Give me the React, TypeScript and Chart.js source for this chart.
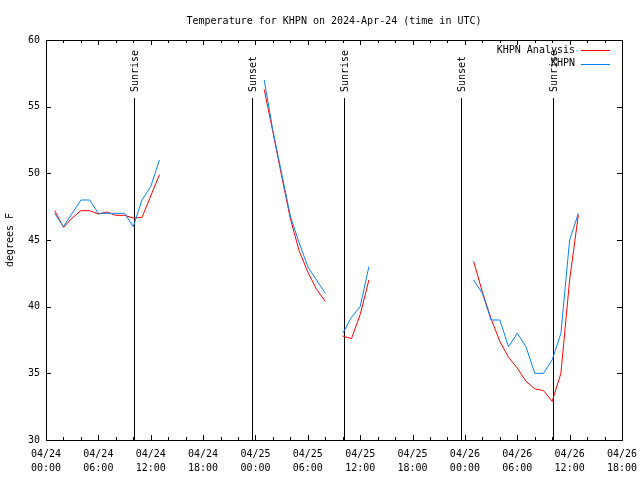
import React, { useEffect, useRef } from 'react';
import { Chart, registerables } from 'chart.js';

Chart.register(...registerables);

const FONT = '"DejaVu Sans Mono", monospace';

// Axis ticks (hours since 04/24 00:00 UTC)
const xTickHours = [0, 6, 12, 18, 24, 30, 36, 42, 48, 54, 60, 66];
const xTickLabels = [
  ['04/24', '00:00'], ['04/24', '06:00'], ['04/24', '12:00'], ['04/24', '18:00'],
  ['04/25', '00:00'], ['04/25', '06:00'], ['04/25', '12:00'], ['04/25', '18:00'],
  ['04/26', '00:00'], ['04/26', '06:00'], ['04/26', '12:00'], ['04/26', '18:00'],
];
const xMinorStep = 2;
const yTicks = [30, 35, 40, 45, 50, 55, 60];

// Sun events (hours since 04/24 00:00 UTC)
const sunHours = [10.1, 23.65, 34.1, 47.6, 58.05];
const sunLabels = ['Sunrise', 'Sunset', 'Sunrise', 'Sunset', 'Sunrise'];

// Segment 1
const seg1Hours = [1, 2, 3, 4, 5, 6, 7, 8, 9, 10, 11, 12, 13];
const seg1Analysis = [47.2, 45.95, 46.65, 47.2, 47.2, 46.95, 47.1, 46.85, 46.85, 46.65, 46.7, 48.3, 49.9];
const seg1Obs = [47, 46, 47, 48, 48, 47, 47, 47, 47, 46, 48, 49, 51];

// Segment 2
const seg2Hours = [25, 26, 27, 28, 29, 30, 31, 32];
const seg2Analysis = [56.3, 53.1, 49.8, 46.6, 44.2, 42.6, 41.3, 40.4];
const seg2Obs = [57, 53.2, 50, 46.8, 44.8, 43, 42, 41];

// Segment 3
const seg3Hours = [34, 35, 36, 37];
const seg3Analysis = [37.8, 37.6, 39.4, 42.0];
const seg3Obs = [38, 39.2, 40, 43];

// Segment 4
const seg4Hours = [49, 50, 51, 52, 53, 54, 55, 56, 57, 58, 59, 60, 61];
const seg4Analysis = [43.4, 41.1, 39.1, 37.4, 36.2, 35.4, 34.4, 33.85, 33.7, 32.9, 35, 42, 46.9];
const seg4Obs = [42, 41, 39, 39, 37, 38, 37, 35, 35, 36, 38, 45, 47];

const analysisLabel = 'KHPN Analysis';
const obsLabel = 'KHPN';
const titleText = 'Temperature for KHPN on 2024-Apr-24 (time in UTC)';
const RED = '#ff0000';
const BLUE = '#0a80f0';

function buildSeries(segments: [number[], number[]][]) {
  const out: { x: number; y: number | null }[] = [];
  segments.forEach(([hs, vs], si) => {
    if (si > 0) out.push({ x: hs[0] - 0.5, y: null });
    hs.forEach((h, i) => out.push({ x: h, y: vs[i] }));
  });
  return out;
}

const framePlugin = {
  id: 'gnuFrame',
  beforeDatasetsDraw(chart: any) {
    const { ctx, chartArea, scales } = chart;
    const xs = scales.x;
    ctx.save();
    ctx.strokeStyle = '#000';
    ctx.lineWidth = 1;
    ctx.fillStyle = '#000';
    ctx.font = `10px ${FONT}`;
    const lineTop = chartArea.top + 58;
    sunHours.forEach((h, i) => {
      const x = Math.round(xs.getPixelForValue(h)) + 0.5;
      ctx.beginPath();
      ctx.moveTo(x, chartArea.bottom);
      ctx.lineTo(x, lineTop);
      ctx.stroke();
      ctx.save();
      ctx.translate(x + 1, lineTop - 6);
      ctx.rotate(-Math.PI / 2);
      ctx.textAlign = 'left';
      ctx.textBaseline = 'middle';
      ctx.fillText(sunLabels[i], 0, 0);
      ctx.restore();
    });
    ctx.restore();
  },
  afterDraw(chart: any) {
    const { ctx, chartArea, scales } = chart;
    const xs = scales.x;
    const ys = scales.y;
    const { left, right, top, bottom } = chartArea;
    ctx.save();
    ctx.strokeStyle = '#000';
    ctx.lineWidth = 1;
    ctx.strokeRect(Math.round(left) + 0.5, Math.round(top) + 0.5, Math.round(right - left), Math.round(bottom - top));
    ctx.beginPath();
    for (let h = xs.min; h <= xs.max + 1e-9; h += xMinorStep) {
      const x = Math.round(xs.getPixelForValue(h)) + 0.5;
      const len = h % 6 === 0 ? 5 : 3;
      ctx.moveTo(x, bottom);
      ctx.lineTo(x, bottom - len);
      ctx.moveTo(x, top);
      ctx.lineTo(x, top + len);
    }
    yTicks.forEach((v) => {
      const y = Math.round(ys.getPixelForValue(v)) + 0.5;
      ctx.moveTo(left, y);
      ctx.lineTo(left + 5, y);
      ctx.moveTo(right, y);
      ctx.lineTo(right - 5, y);
    });
    ctx.stroke();

    // Title
    ctx.fillStyle = '#000';
    ctx.font = `10px ${FONT}`;
    ctx.textAlign = 'center';
    ctx.textBaseline = 'middle';
    ctx.fillText(titleText, (left + right) / 2, 21);

    // Legend
    const items = [
      { label: analysisLabel, color: RED, y: 50 },
      { label: obsLabel, color: BLUE, y: 63.5 },
    ];
    items.forEach((it) => {
      ctx.textAlign = 'right';
      ctx.fillStyle = '#000';
      ctx.fillText(it.label, right - 47, it.y);
      ctx.strokeStyle = it.color;
      ctx.beginPath();
      const ly = Math.round(it.y) + 0.5;
      ctx.moveTo(right - 41, ly);
      ctx.lineTo(right - 12, ly);
      ctx.stroke();
    });
    ctx.restore();
  },
};

export default function App() {
  const ref = useRef<HTMLCanvasElement>(null);
  useEffect(() => {
    const analysisData = buildSeries([
      [seg1Hours, seg1Analysis], [seg2Hours, seg2Analysis], [seg3Hours, seg3Analysis], [seg4Hours, seg4Analysis],
    ]);
    const obsData = buildSeries([
      [seg1Hours, seg1Obs], [seg2Hours, seg2Obs], [seg3Hours, seg3Obs], [seg4Hours, seg4Obs],
    ]);
    const chart = new Chart(ref.current as HTMLCanvasElement, {
      type: 'line',
      data: {
        datasets: [
          { label: analysisLabel, data: analysisData as any, borderColor: RED, borderWidth: 1, pointRadius: 0, tension: 0, spanGaps: false, order: 1 },
          { label: obsLabel, data: obsData as any, borderColor: BLUE, borderWidth: 1, pointRadius: 0, tension: 0, spanGaps: false, order: 0 },
        ],
      },
      options: {
        animation: false,
        responsive: false,
        devicePixelRatio: 1,
        parsing: false as any,
        layout: { padding: { left: 0, right: 18, top: 40, bottom: 0 } },
        plugins: { legend: { display: false }, title: { display: false }, tooltip: { enabled: false } },
        scales: {
          x: {
            type: 'linear',
            min: 0,
            max: 66,
            afterBuildTicks: (s: any) => { s.ticks = xTickHours.map((v) => ({ value: v })); },
            afterFit: (s: any) => { s.height = 40; s.paddingLeft = 0; s.paddingRight = 0; },
            ticks: {
              autoSkip: false,
              maxRotation: 0,
              minRotation: 0,
              padding: 7,
              color: '#000',
              font: { family: FONT, size: 10, lineHeight: 1.4 },
              callback: (_v: any, i: number) => xTickLabels[i],
            },
            grid: { display: false, drawTicks: false },
            border: { display: false },
          },
          y: {
            type: 'linear',
            min: 30,
            max: 60,
            afterBuildTicks: (s: any) => { s.ticks = yTicks.map((v) => ({ value: v })); },
            afterFit: (s: any) => { s.width = 46; s.paddingTop = 0; s.paddingBottom = 0; },
            ticks: {
              padding: 6,
              color: '#000',
              font: { family: FONT, size: 10 },
              callback: (v: any) => String(v),
            },
            title: { display: true, text: 'degrees F', color: '#000', font: { family: FONT, size: 10 }, padding: { top: 4, bottom: 0 } },
            grid: { display: false, drawTicks: false },
            border: { display: false },
          },
        },
      },
      plugins: [framePlugin],
    });
    return () => chart.destroy();
  }, []);
  return (
    <div style={{ position: 'fixed', left: 0, top: 0, width: 640, height: 480, background: '#fff' }}>
      <canvas ref={ref} width={640} height={480} style={{ width: 640, height: 480, display: 'block' }} />
    </div>
  );
}
